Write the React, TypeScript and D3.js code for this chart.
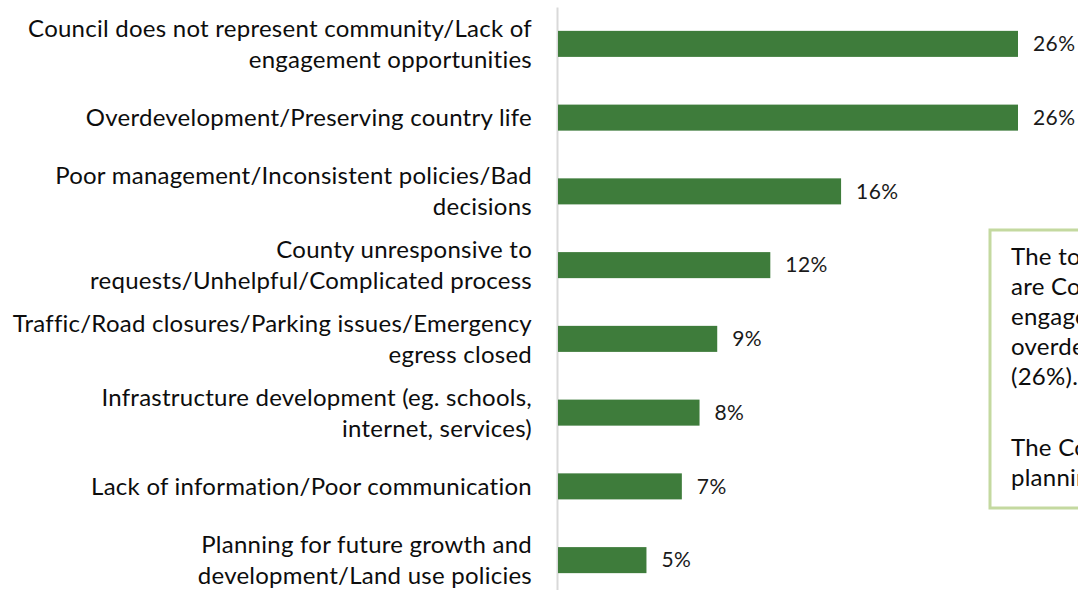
import { useEffect, useRef } from 'react';
import * as d3 from 'd3';

const categories = [
  'Council does not represent community/Lack of engagement opportunities',
  'Overdevelopment/Preserving country life',
  'Poor management/Inconsistent policies/Bad decisions',
  'County unresponsive to requests/Unhelpful/Complicated process',
  'Traffic/Road closures/Parking issues/Emergency egress closed',
  'Infrastructure development (eg. schools, internet, services)',
  'Lack of information/Poor communication',
  'Planning for future growth and development/Land use policies',
];

// how the category labels break onto lines in the original
const categoryLines = [
  ['Council does not represent community/Lack of', 'engagement opportunities'],
  ['Overdevelopment/Preserving country life'],
  ['Poor management/Inconsistent policies/Bad', 'decisions'],
  ['County unresponsive to', 'requests/Unhelpful/Complicated process'],
  ['Traffic/Road closures/Parking issues/Emergency', 'egress closed'],
  ['Infrastructure development (eg. schools,', 'internet, services)'],
  ['Lack of information/Poor communication'],
  ['Planning for future growth and', 'development/Land use policies'],
];

const values = [26, 26, 16, 12, 9, 8, 7, 5];

// the note is two paragraphs, both cut off by the right edge
const noteParagraphs = [
  ['The top concerns', 'are Council not representing', 'engagement opportunities and', 'overdevelopment/country life', '(26%).'],
  ['The County should focus on', 'planning for future growth.'],
];

type Row = { category: string; lines: string[]; value: number };

export default function App() {
  const svgRef = useRef<SVGSVGElement | null>(null);

  useEffect(() => {
    const svgElement = svgRef.current;
    if (!svgElement) {
      return;
    }
    const svg = d3.select(svgElement);
    svg.selectAll('*').remove();

    const width = 1078;
    const height = 590;
    const font = 'Lato, "Open Sans", sans-serif';

    svg.attr('width', width).attr('height', height).attr('viewBox', `0 0 ${width} ${height}`);

    const rows: Row[] = categories.map((category, i) => ({ category, lines: categoryLines[i], value: values[i] }));

    const x = d3.scaleLinear().domain([0, 26]).range([558, 1018]);
    const y = d3.scaleBand<string>().domain(categories).range([7, 597]).paddingInner(0.647).paddingOuter(0.3235);

    // vertical axis line only
    const yAxis = d3
      .axisLeft(y)
      .tickSize(0)
      .tickSizeOuter(0)
      .tickFormat(() => '');
    const axisGroup = svg.append('g').attr('transform', `translate(${x(0) - 1},0)`).call(yAxis);
    axisGroup.selectAll('text').remove();
    axisGroup.select('path.domain').attr('stroke', '#d9d9d9').attr('stroke-width', 2);

    svg
      .append('g')
      .selectAll('rect')
      .data(rows)
      .join('rect')
      .attr('x', x(0))
      .attr('y', (d) => y(d.category)!)
      .attr('width', (d) => x(d.value) - x(0))
      .attr('height', y.bandwidth())
      .attr('fill', '#3e7c3b');

    svg
      .append('g')
      .selectAll('text')
      .data(rows)
      .join('text')
      .attr('x', (d) => x(d.value) + 15)
      .attr('y', (d) => y(d.category)! + y.bandwidth() / 2)
      .attr('dy', '0.35em')
      .attr('font-family', font)
      .attr('font-size', 21)
      .attr('letter-spacing', 0.4)
      .attr('fill', '#1a1a1a')
      .text((d) => `${d.value}%`);

    const lineGap = 31;
    const labels = svg
      .append('g')
      .selectAll('text')
      .data(rows)
      .join('text')
      .attr('text-anchor', 'end')
      .attr('font-family', font)
      .attr('font-size', 24)
      .attr('letter-spacing', 0.25)
      .attr('fill', '#0d0d0d');
    labels
      .selectAll('tspan')
      .data((d) => d.lines.map((line, i) => ({ line, i, n: d.lines.length, cy: y(d.category)! + y.bandwidth() / 2 })))
      .join('tspan')
      .attr('x', 532)
      .attr('y', (d) => d.cy + (d.i - (d.n - 1) / 2) * lineGap)
      .attr('dy', '0.35em')
      .text((d) => d.line);

    // annotation box, cut off at the right edge
    const note = svg.append('g');
    note
      .append('rect')
      .attr('x', 990)
      .attr('y', 230)
      .attr('width', 140)
      .attr('height', 278)
      .attr('fill', '#ffffff')
      .attr('stroke', '#c4d9a0')
      .attr('stroke-width', 3);
    const paragraphTops = [265, 456];
    note
      .selectAll('text')
      .data(noteParagraphs)
      .join('text')
      .attr('font-family', font)
      .attr('font-size', 24)
      .attr('letter-spacing', 0.25)
      .attr('fill', '#0d0d0d')
      .selectAll('tspan')
      .data((lines, p) => lines.map((line, i) => ({ line, y: paragraphTops[p] + i * 30 })))
      .join('tspan')
      .attr('x', 1011)
      .attr('y', (d) => d.y)
      .text((d) => d.line);
  }, []);

  return <svg ref={svgRef} style={{ position: 'absolute', left: 0, top: 0, display: 'block' }} />;
}
